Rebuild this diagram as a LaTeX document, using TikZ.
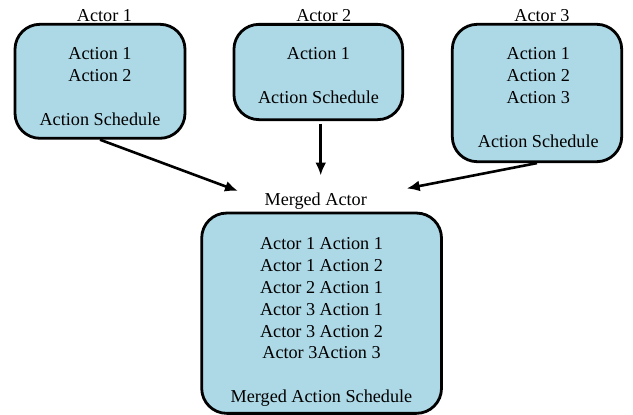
\documentclass[tikz,border=0pt]{standalone}
\usepackage{fontspec}
\setmainfont{Liberation Serif}
\usetikzlibrary{arrows.meta}
\definecolor{actorfill}{HTML}{ADD8E6}
\tikzset{
  actorbox/.style={draw=black, line width=2.8pt, fill=actorfill,
    rounded corners=25pt, inner sep=0pt},
  boxtext/.style={align=center, inner sep=0pt, anchor=north,
    font=\fontsize{18.2}{21.8}\selectfont},
  boxlabel/.style={anchor=base, inner sep=0pt,
    font=\fontsize{18.2}{21.8}\selectfont},
  mergearrow/.style={-{Latex[length=13pt,width=11pt]}, line width=2.6pt},
}
\begin{document}
\begin{tikzpicture}[x=1pt,y=-1pt]
  \useasboundingbox (0,0) rectangle (633,415);

  % actor boxes
  \node[actorbox, minimum width=170pt, minimum height=114pt] (a1) at (100,81.3) {};
  \node[actorbox, minimum width=168.7pt, minimum height=95.3pt] (a2) at (318.3,72) {};
  \node[actorbox, minimum width=169.4pt, minimum height=137.4pt] (a3) at (537,93) {};
  \node[actorbox, minimum width=239.8pt, minimum height=200.3pt] (m) at (321.6,313.2) {};

  % box contents
  \node[boxtext] (a1t) at (100,47.6) {Action 1\\Action 2\\[21.8pt]Action Schedule};
  \node[boxtext] (a2t) at (318.5,47.6) {Action 1\\[21.8pt]Action Schedule};
  \node[boxtext] (a3t) at (538.3,47.6) {Action 1\\Action 2\\Action 3\\[21.8pt]Action Schedule};
  \node[boxtext] (mt) at (321.5,237.6) {Actor 1 Action 1\\Actor 1 Action 2\\Actor 2 Action 1\\Actor 3 Action 1\\Actor 3 Action 2\\Actor 3Action 3\\[21.8pt]Merged Action Schedule};

  % titles above the boxes
  \node[boxlabel] (a1l) at (104.5,21) {Actor 1};
  \node[boxlabel] (a2l) at (323.8,21) {Actor 2};
  \node[boxlabel] (a3l) at (542,21) {Actor 3};
  \node[boxlabel] (ml) at (315.7,205) {Merged Actor};

  % arrow ends near the merged actor
  \coordinate (t1) at (238,191);
  \coordinate (t2) at (320.7,175.5);
  \coordinate (t3) at (406.7,188.5);
  \coordinate (s2) at (320.7,119.6);

  \draw[mergearrow] (a1.south) -- (t1);
  \draw[mergearrow, shorten <=4pt] (s2) -- (t2);
  \draw[mergearrow] (a3.south) -- (t3);
\end{tikzpicture}
\end{document}
